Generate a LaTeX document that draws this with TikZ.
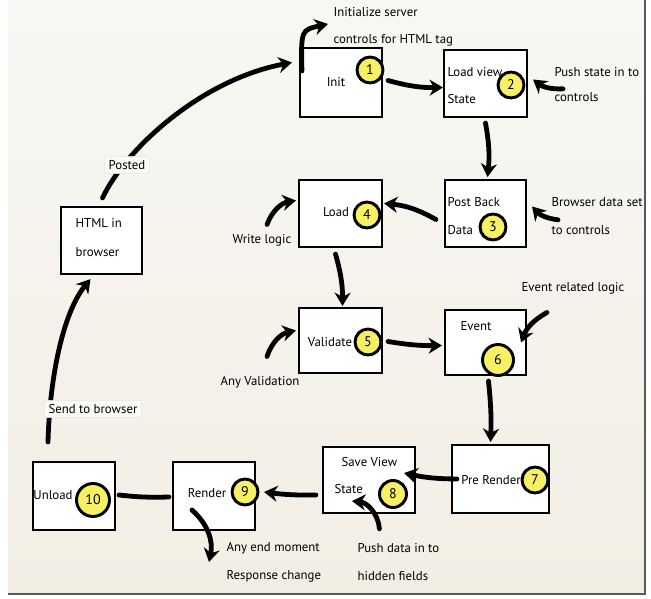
\documentclass[tikz,border=0pt]{standalone}
\usepackage{fontspec}
\setmainfont{PT Sans}
\usetikzlibrary{arrows.meta,calc}

\definecolor{paper}{HTML}{F2EEE4}
\definecolor{paperhi}{HTML}{F8F7F3}
\definecolor{marker}{HTML}{F7F065}

\tikzset{
  stage/.style n args={2}{draw, line width=1.6pt, fill=white, inner sep=0pt,
    minimum width=#1*0.75pt, minimum height=#2*0.75pt},
  txt/.style={inner sep=1pt, font=\fontsize{9.6}{11}\selectfont},
  num/.style={circle, draw, line width=2.2pt, fill=marker, inner sep=0pt,
    minimum size=#1*0.75pt, font=\fontsize{10.5}{11}\selectfont},
  num/.default=26,
  tag/.style={txt, fill=white!70!paper, rounded corners=2pt, draw=black!10, inner sep=3pt},
  flow/.style={line width=3.6pt, line cap=round, -{Stealth[length=10pt,width=12pt]}},
}

\begin{document}
\begin{tikzpicture}[x=0.75pt,y=-0.75pt]
	\useasboundingbox (0,0) rectangle (651,599);
	% paper
	\shade[top color=paperhi, bottom color=paper] (8,0) rectangle (645,594);
	\draw[black!65, line width=1.5pt] (645,0) -- (645,594) -- (8,594);

	% stages
	\node[stage={82}{69}] (init) at (341,82.5) {};
	\node[stage={83}{67}] (loadvs) at (485.5,83.5) {};
	\node[stage={81}{67}] (postback) at (485.5,213.5) {};
	\node[stage={83}{67}] (load) at (340.5,213.5) {};
	\node[stage={83}{65}] (validate) at (340.5,340.5) {};
	\node[stage={81}{65}] (event) at (485.5,342.5) {};
	\node[stage={97}{68}] (prerender) at (500.5,479) {};
	\node[stage={92}{66}] (savevs) at (369,480) {};
	\node[stage={82}{68}] (render) at (214,496) {};
	\node[stage={82}{68}] (unload) at (74,496) {};
	\node[stage={81}{67}] (html) at (101.5,240.5) {};

	% stage texts
	\node[txt] (initT) at (336,82) {Init};
	\node[txt, anchor=west] (loadvsA) at (446,72) {Load view};
	\node[txt, anchor=west] (loadvsB) at (446,99) {State};
	\node[txt, anchor=west] (postbackA) at (446,202) {Post Back};
	\node[txt, anchor=west] (postbackB) at (446,230) {Data};
	\node[txt] (loadT) at (336,212) {Load};
	\node[txt] (validateT) at (330,342) {Validate};
	\node[txt] (eventT) at (476,326) {Event};
	\node[txt] (prerenderT) at (491,480) {Pre Render};
	\node[txt, anchor=west] (savevsA) at (340,462) {Save View};
	\node[txt, anchor=west] (savevsB) at (333,489) {State};
	\node[txt] (renderT) at (207,493) {Render};
	\node[txt] (unloadT) at (53,495) {Unload};
	\node[txt, anchor=west] (htmlA) at (74,223) {HTML in};
	\node[txt, anchor=west] (htmlB) at (74,252) {browser};

	% numbers
	\node[num] (n1) at (370,70) {1};
	\node[num] (n2) at (511,85) {2};
	\node[num] (n3) at (493,227) {3};
	\node[num] (n4) at (367,215) {4};
	\node[num] (n5) at (368,342) {5};
	\node[num=31] (n6) at (498,360) {6};
	\node[num] (n7) at (535,480) {7};
	\node[num=27] (n8) at (393,494) {8};
	\node[num] (n9) at (245,492) {9};
	\node[num=33] (n10) at (93,500) {10};

	% notes
	\node[txt, anchor=west] (initA) at (332,12) {Initialize server};
	\node[txt, anchor=west] (initB) at (332,40) {controls for HTML tag};
	\node[txt, anchor=west] (pushA) at (553,72) {Push state in to};
	\node[txt, anchor=west] (pushB) at (553,97) {controls};
	\node[txt, anchor=west] (browA) at (550,202) {Browser data set};
	\node[txt, anchor=west] (browB) at (550,230) {to controls};
	\node[txt] (write) at (262,240) {Write logic};
	\node[txt] (anyval) at (260,382) {Any Validation};
	\node[txt] (evlogic) at (573,288) {Event related logic};
	\node[txt, anchor=west] (dataA) at (356,548) {Push data in to};
	\node[txt, anchor=west] (dataB) at (356,576) {hidden fields};
	\node[txt, anchor=west] (endA) at (225,548) {Any end moment};
	\node[txt, anchor=west] (endB) at (225,576) {Response change};

	% page cycle
	\draw[flow] ($(init.east)+(5,-2)$) to[bend right=8] ($(loadvs.west)+(0,4)$);
	\draw[flow] ($(loadvs.south)+(0,5)$) to[bend left=8] ($(postback.north)+(2,-2)$);
	\draw[flow] ($(postback.west)+(-8,6)$) to[bend right=12] ($(load.east)+(1,-10)$);
	\draw[flow] ($(load.south)+(-5,6)$) to[bend left=8] ($(validate.north)+(2,-1)$);
	\draw[flow] ($(validate.east)+(5,1)$) to[bend right=5] ($(event.west)+(-2,3)$);
	\draw[flow] ($(event.south)+(3,5)$) to[bend left=4] ($(prerender.north)+(-10,-2)$);
	\draw[flow] ($(prerender.west)+(6,0)$) to[bend left=6] ($(savevs.east)+(-12,-7)$);
	\draw[flow] ($(savevs.west)+(-6,15)$) to[bend left=4] ($(render.east)+(8,-4)$);
	\draw[line width=3.6pt, line cap=round] ($(render.west)+(-3,1)$) to[bend left=4] ($(unload.east)+(3,-1)$);

	% browser round trip
	\coordinate (sent) at (48,442);
	\draw[flow] (sent) .. controls (50,370) and (65,310) .. ($(html.south)+(-11,4)$);
	\draw[flow] ($(html.north)+(1,-8)$) .. controls (125,150) and (200,80) .. ($(init.west)+(-7,-20)$);
	\node[tag] (posted) at (127,165) {Posted};
	\node[tag] (send) at (93,409) {Send to browser};

	% note arrows
	\draw[flow] ($(init.north west)+(3,24)$) .. controls (301,30) .. ($(initA.west)+(-4,12)$);
	\draw[flow] ($(pushB.north west)+(10,-2)$) to[bend left=20] ($(loadvs.east)+(5,-4)$);
	\draw[flow] ($(browB.north west)+(8,-4)$) to[bend left=20] ($(postback.east)+(5,-7)$);
	\draw[flow] ($(write.north)+(5,-8)$) to[bend left=30] ($(load.west)+(-2,-13)$);
	\draw[flow] ($(anyval.north)+(7,-18)$) to[bend left=30] ($(validate.west)+(-2,-10)$);
	\draw[flow] ($(evlogic.south)+(-26,17)$) to[bend right=20] ($(event.east)+(-6,0)$);
	\draw[flow] ($(dataA.north)+(-19,-13)$) to[bend right=40] ($(savevs.south)+(-17,-13)$);
	\draw[flow] ($(render.center)+(-22,14)$) to[bend left=30] ($(endA.west)+(-16,14)$);
\end{tikzpicture}
\end{document}
